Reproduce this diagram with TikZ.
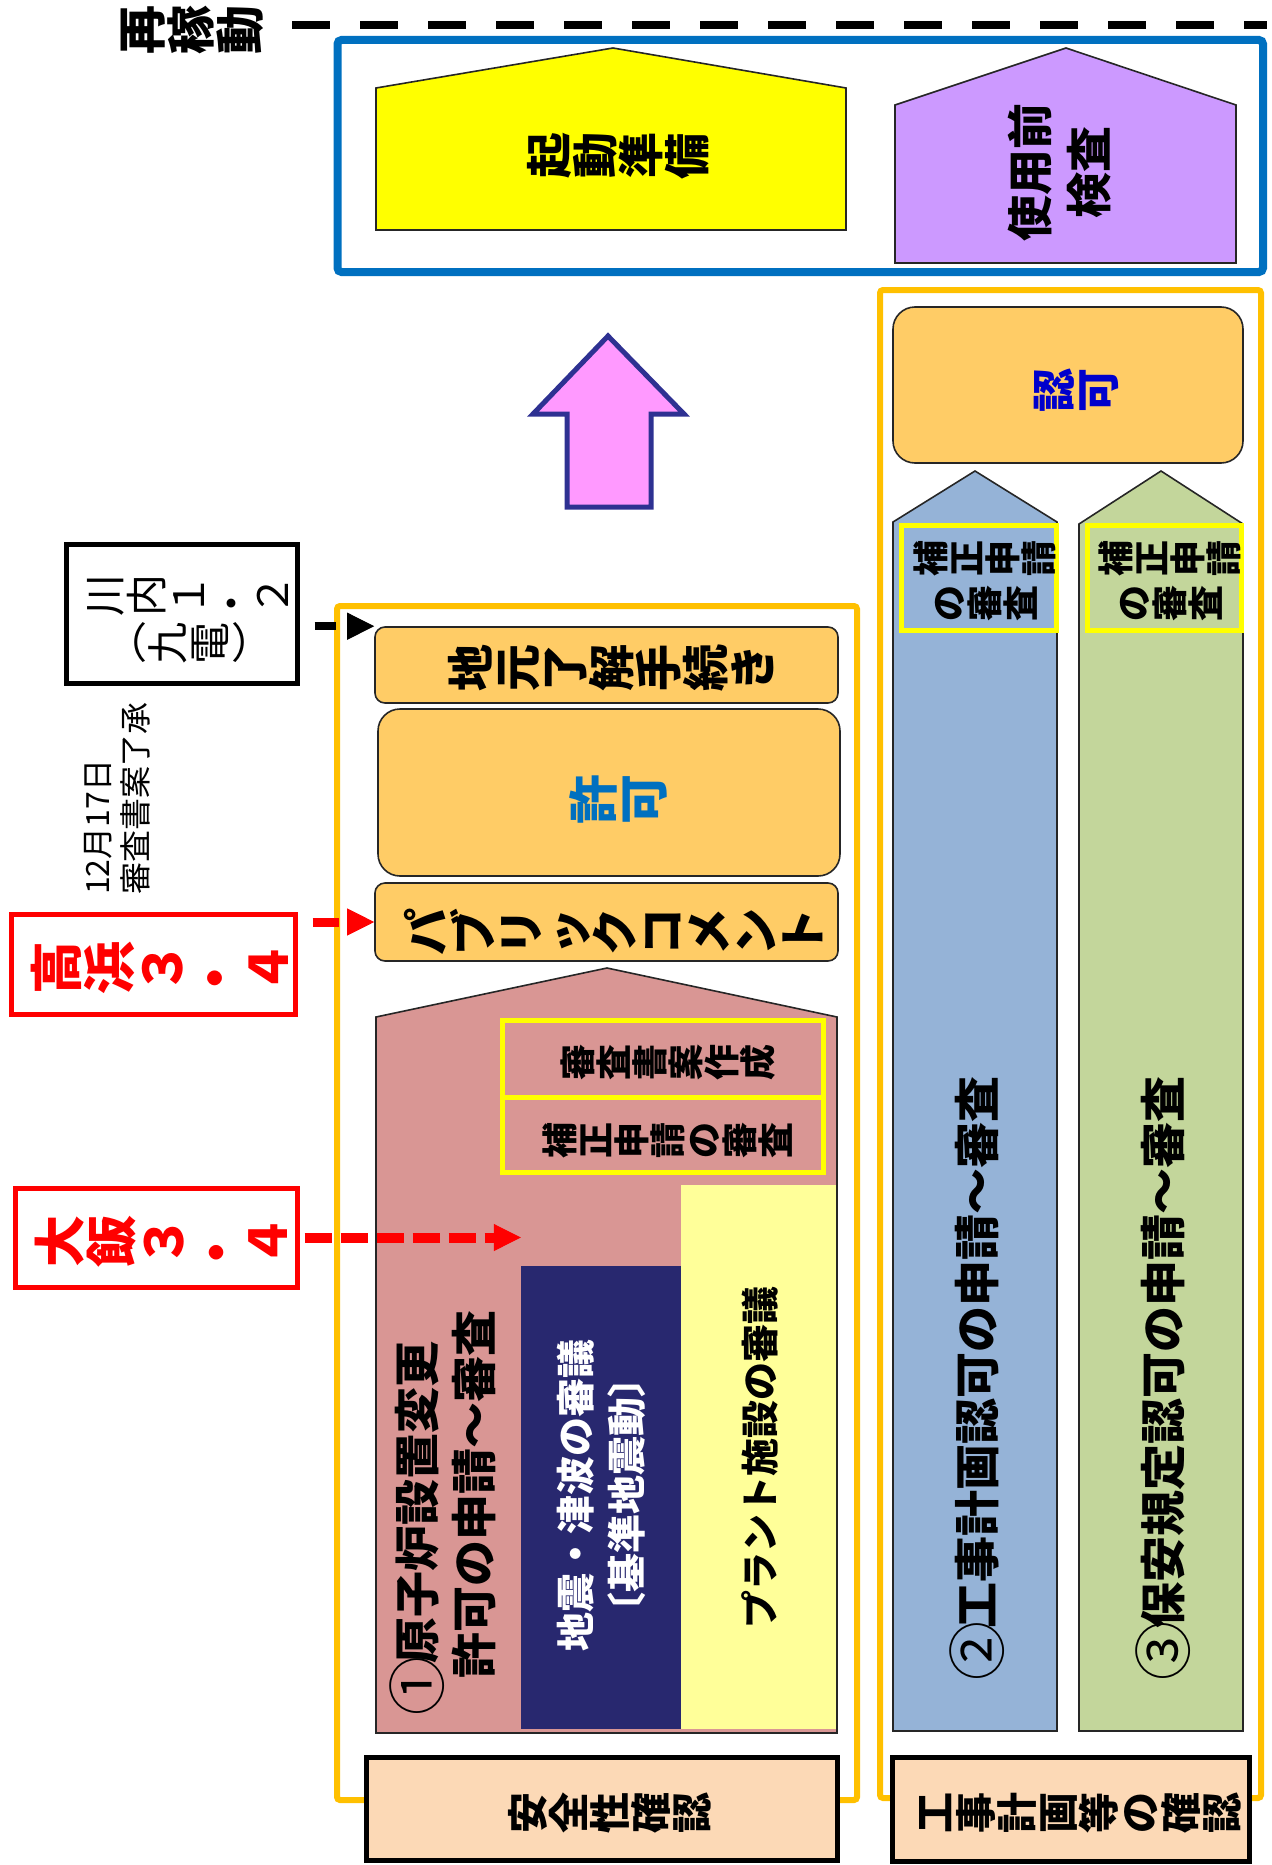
\documentclass[tikz,border=0pt]{standalone}
\usepackage{fontspec}
\setmainfont{Noto Sans CJK JP}
\usepackage{graphicx}
\usetikzlibrary{arrows.meta,calc}

\definecolor{cYellow}{HTML}{FFFF00}
\definecolor{cRed}{HTML}{FF0000}
\definecolor{cGold}{HTML}{FFC000}
\definecolor{cBlue}{HTML}{0070C0}
\definecolor{cPurple}{HTML}{CC99FF}
\definecolor{cOrange}{HTML}{FFCC66}
\definecolor{cBlueCol}{HTML}{95B3D7}
\definecolor{cGreenCol}{HTML}{C3D69B}
\definecolor{cPink}{HTML}{D99694}
\definecolor{cNavy}{HTML}{28286F}
\definecolor{cLY}{HTML}{FFFF99}
\definecolor{cPeach}{HTML}{FCD9B6}
\definecolor{cPinkA}{HTML}{FF99FF}
\definecolor{cNavyB}{HTML}{2E3192}
\definecolor{cNinka}{HTML}{0000CC}

\newcommand\emcell[1]{\makebox[1em]{\rule[-0.12em]{0pt}{1em}#1}}
\newcommand\bigc[1]{\makebox[1em]{\raisebox{-0.1em}{\scalebox{1.28}{\mdseries #1}}}}
\ExplSyntaxOn
\cs_new_protected:Npn \my_vt_char:n #1
  {
    \tl_if_in:nnTF { （） } { #1 }
      { \emcell{#1} }
      {
        \tl_if_in:nnTF { ． } { #1 }
          { \emcell{\raisebox{-0.2em}{・}} }
          { \rotatebox[origin=c]{90}{\emcell{#1}} }
      }
  }
\NewDocumentCommand \vt { m } { \tl_map_function:nN { #1 } \my_vt_char:n }
\ExplSyntaxOff

\newcommand\fsz[2]{\fontsize{#1pt}{#2pt}\selectfont}

\tikzset{
  txt/.style={inner sep=0pt, align=center},
  thinb/.style={draw=black!85, line width=1.6pt},
  sz/.style 2 args={minimum width=#1, minimum height=#2, inner sep=0pt, rectangle},
  obox/.style={thinb, fill=cOrange},
  ybox/.style={draw=cYellow, line width=5pt},
  kbox/.style={draw=black, line width=5pt, fill=cPeach},
  frame/.style={draw=cGold, line width=6pt, rounded corners=3pt},
  darr/.style={line width=8pt, -{Triangle[length=27pt,width=27pt,line width=1pt]}},
}

\begin{document}
\begin{tikzpicture}[x=1pt,y=-1pt]
\useasboundingbox (0,0) rectangle (1271,1865);

% ---------- top: restart ----------
\node[txt, font=\fsz{49}{49}\bfseries] (saikado) at (191,30) {\vt{再稼動}};
\coordinate (dashL) at (292,25);
\coordinate (dashR) at (1267,25);
\draw[line width=8pt, dash pattern=on 38pt off 30pt] (dashL) -- (dashR);

\draw[draw=cBlue, line width=8pt, rounded corners=4pt] (337.5,40) rectangle (1263,272);

\draw[thinb, fill=cYellow] (376,230) -- (376,88) -- (613,48) -- (846,88) -- (846,230) -- cycle;
\node[txt, font=\fsz{46}{46}\bfseries] (kidou) at (618,156) {\vt{起動準備}};

\draw[thinb, fill=cPurple] (895,263) -- (895,105) -- (1066,48) -- (1236,105) -- (1236,263) -- cycle;
\node[txt, rotate=90, font=\fsz{46}{59}\bfseries] (shiyou) at (1060,172) {使用前\\検査};

% ---------- big up arrow ----------
\draw[fill=cPinkA, draw=cNavyB, line width=5pt, line join=miter]
  (608,336) -- (684,414) -- (651,414) -- (651,507) -- (567,507) -- (567,414) -- (533,414) -- cycle;

% ---------- right frame ----------
\draw[frame] (880,290) rectangle (1261,1798);
\node[obox, sz={350pt}{156pt}, rounded corners=22pt] (ninka) at (1068,385) {};
\node[txt, text=cNinka, font=\fsz{44}{44}\bfseries] (ninkaT) at (1076,390) {\vt{認可}};

\draw[thinb, fill=cBlueCol] (893,1731) -- (893,522) -- (975,471) -- (1057,522) -- (1057,1731) -- cycle;
\node[ybox, sz={155pt}{105pt}] (yb3) at (978.5,577.5) {};
\node[txt, font=\fsz{36}{45}\bfseries] (hosei2T) at (985,581) {\vt{補正申請}\\\vt{の審査}};
\node[txt, rotate=90, font=\fsz{46}{46}\bfseries] (koujiT) at (977,1375) {\bigc{②}工事計画認可の申請～審査};

\draw[thinb, fill=cGreenCol] (1079,1731) -- (1079,524) -- (1161,471) -- (1243,524) -- (1243,1731) -- cycle;
\node[ybox, sz={154pt}{105pt}] (yb4) at (1164,577.5) {};
\node[txt, font=\fsz{36}{45}\bfseries] (hosei3T) at (1170,581) {\vt{補正申請}\\\vt{の審査}};
\node[txt, rotate=90, font=\fsz{46}{46}\bfseries] (hoanT) at (1163,1375) {\bigc{③}保安規定認可の申請～審査};

\node[kbox, sz={357pt}{104pt}] (kouji) at (1070.5,1809) {};
\node[txt, font=\fsz{41}{41}\bfseries] (koujiBT) at (1078,1813) {\vt{工事計画等の確認}};

% ---------- left frame ----------
\draw[frame] (337,606) rectangle (857,1800);
\node[obox, sz={463pt}{76pt}, rounded corners=10pt] (jimoto) at (606.5,665) {};
\node[txt, font=\fsz{47}{47}\bfseries] (jimotoT) at (612,668) {\vt{地元了解手続き}};
\node[obox, sz={462pt}{167pt}, rounded corners=22pt] (kyoka) at (609,792.5) {};
\node[txt, text=cBlue, font=\fsz{50}{50}\bfseries] (kyokaT) at (618,799) {\vt{許可}};
\node[obox, sz={463pt}{78pt}, rounded corners=10pt] (pc) at (606.5,922) {};
\node[txt, font=\fsz{47}{47}\bfseries] (pcT) at (615,932) {\vt{パブリックコメント}};

\draw[thinb, fill=cPink] (376,1733) -- (376,1017) -- (607,968) -- (837,1017) -- (837,1733) -- cycle;
\node[sz={160pt}{463pt}, fill=cNavy] (navy) at (601,1497.5) {};
\node[sz={155pt}{544pt}, fill=cLY] (plant) at (758.5,1457) {};
\node[ybox, sz={321pt}{77pt}] (yb1) at (662.5,1058.5) {};
\node[ybox, sz={321pt}{75pt}] (yb2) at (662.5,1134.5) {};
\node[txt, font=\fsz{36}{36}\bfseries] (shinsaT) at (668,1062) {\vt{審査書案作成}};
\node[txt, font=\fsz{36}{36}\bfseries] (hosei1T) at (668,1140) {\vt{補正申請の審査}};
\node[txt, rotate=90, align=left, font=\fsz{46}{57}\bfseries] (genshiT) at (442.5,1510)
  {\bigc{①}原子炉設置変更\\\hspace*{31pt}許可の申請～審査};
\node[txt, rotate=90, text=white, font=\fsz{39}{51}\bfseries] (jishinT) at (601,1495)
  {地震・津波の審議\\〔基準地震動〕};
\node[txt, rotate=90, font=\fsz{38}{38}\bfseries] (plantT) at (760,1457) {プラント施設の審議};

\node[kbox, sz={471pt}{103pt}] (anzen) at (601.5,1808.5) {};
\node[txt, font=\fsz{41}{41}\bfseries] (anzenT) at (610,1813) {\vt{安全性確認}};

% ---------- plants on the left ----------
\node[draw=black, line width=5pt, fill=white, sz={231pt}{139pt}] (sendai) at (181.5,613.5) {};
\node[txt, font=\fsz{42}{48}] (sendaiT) at (189,619) {\vt{川内１．２}\\\vt{（九電）}};
\node[txt, rotate=90, anchor=north west, align=left, font=\fsz{32}{38}] (date) at (84,895)
  {12月17日\\審査書案了承};
\node[draw=cRed, line width=5pt, sz={284pt}{100pt}] (takahama) at (153,964) {};
\node[txt, text=cRed, font=\fsz{53}{53}\bfseries] (takahamaT) at (162,970) {\vt{高浜３．４}};
\node[draw=cRed, line width=5pt, sz={282pt}{99pt}] (ohi) at (156,1237.5) {};
\node[txt, text=cRed, font=\fsz{52}{52}\bfseries] (ohiT) at (164,1244) {\vt{大飯３．４}};

% ---------- arrows ----------
\draw[darr, dash pattern=on 21pt off 15pt, dash phase=21pt]
  (sendai.east |- jimoto.north west) -- (jimoto.north west);
\draw[darr, cRed, line width=9pt, dash pattern=on 26pt off 15pt, dash phase=26pt]
  (takahama.east |- pc.west) -- (pc.west);
\draw[darr, cRed, line width=10pt, dash pattern=on 27pt off 9pt, dash phase=31pt]
  (ohi.east) -- (ohi.east -| navy.west);
\end{tikzpicture}
\end{document}
